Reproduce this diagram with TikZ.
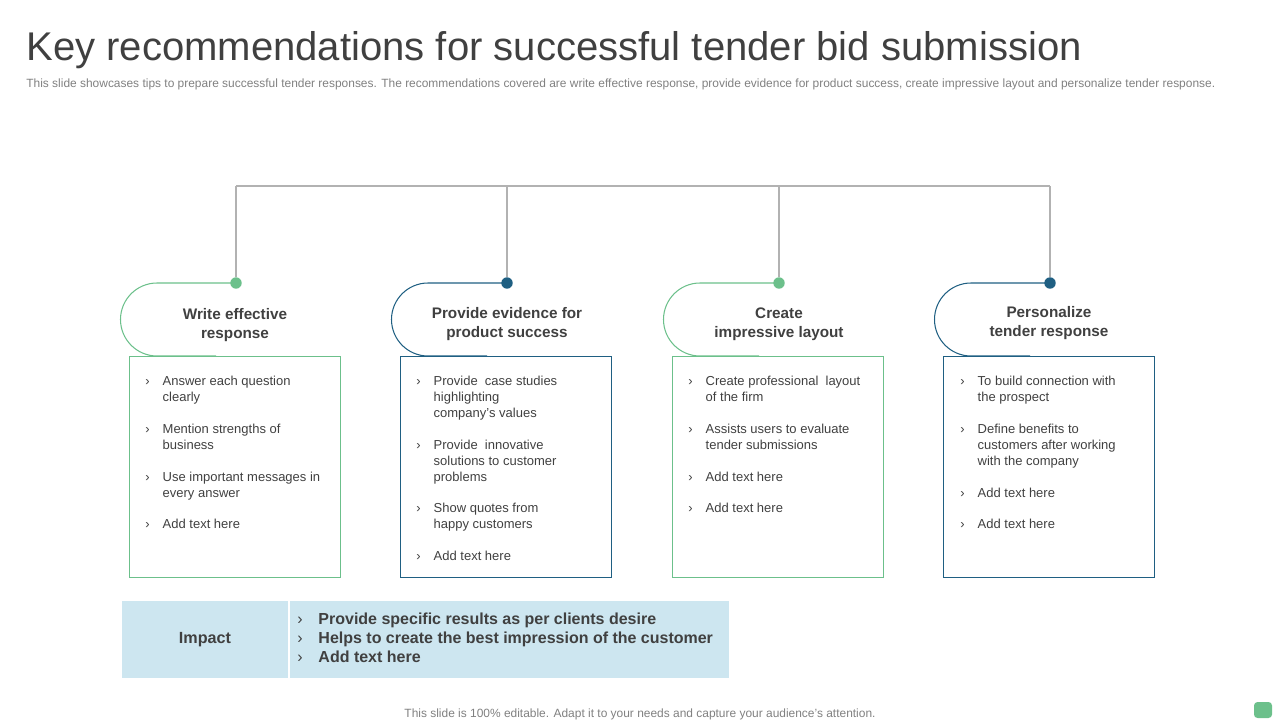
\documentclass[tikz,border=0pt]{standalone}
\usepackage{fontspec}
\setmainfont{Liberation Sans}
\usetikzlibrary{positioning}
\definecolor{lgreen}{HTML}{6CC08B}
\definecolor{dblue}{HTML}{1F5F82}
\definecolor{txtgray}{HTML}{404040}
\definecolor{impfill}{HTML}{CDE6F0}
\newlength{\unitpx}\setlength{\unitpx}{0.5669pt}
\newcommand{\blist}[1]{\fontsize{7.4}{9.07}\selectfont\color{txtgray}\begin{tabular}{@{}l@{\hspace{7.4pt}}l@{}}#1\end{tabular}}
\tikzset{
  conn/.style={draw=gray!60, line width=0.6pt},
  dot/.style={circle, fill=#1, inner sep=0pt, minimum size=6.5pt},
  card/.style={draw=#1, line width=0.6pt, minimum width=212\unitpx, minimum height=222\unitpx, inner sep=0pt},
  head/.style={font=\fontsize{8.7}{10.6}\selectfont\bfseries, text=txtgray, align=center},
  lst/.style={anchor=north west, inner sep=0pt}
}
\begin{document}
\begin{tikzpicture}[x=0.02cm, y=-0.02cm]
\useasboundingbox (0,0) rectangle (1280,720);
% title
\node[anchor=base west, inner sep=0pt, font=\fontsize{22.8}{25}\selectfont, text=txtgray] (title) at (26,60) {Key recommendations for successful tender bid submission};
\node[anchor=base west, inner sep=0pt, font=\fontsize{6.8}{8}\selectfont, text=gray] (sub) at (26,87) {This slide showcases tips to prepare successful tender responses. The recommendations covered are write effective response, provide evidence for product success, create impressive layout and personalize tender response.};
% top connector
\coordinate (top1) at (236,186);
\coordinate (top4) at (1050,186);
\draw[conn] (top1) -- (top4);
\foreach \x/\c/\n in {236/lgreen/1, 507/dblue/2, 779/lgreen/3, 1050/dblue/4} {
  \node[dot=\c] (d\n) at (\x,283) {};
  \draw[conn] (\x,186) -- (d\n);
  \draw[\c, line width=0.6pt] (d\n.center) -- (\x-79,283) arc[start angle=270, end angle=90, radius=36.5] -- (\x-20,356);
  \node[card=\c, anchor=north] (c\n) at (\x-1,356) {};
}
\node[head] (h1) at (235,325) {Write effective\\response};
\node[head] (h2) at (507,324) {Provide evidence for\\product success};
\node[head] (h3) at (779,324) {Create\\impressive layout};
\node[head] (h4) at (1049,323) {Personalize\\tender response};
% lists
\node[lst] (l1) at (145,374) {\blist{› & Answer each question\\ & clearly\\[9.07pt]
› & Mention strengths of\\ & business\\[9.07pt]
› & Use important messages in\\ & every answer\\[9.07pt]
› & Add text here}};
\node[lst] (l2) at (416,374) {\blist{› & Provide\ \ case studies\\ & highlighting\\ & company's values\\[9.07pt]
› & Provide\ \ innovative\\ & solutions to customer\\ & problems\\[9.07pt]
› & Show quotes from\\ & happy customers\\[9.07pt]
› & Add text here}};
\node[lst] (l3) at (688,374) {\blist{› & Create professional\ \ layout\\ & of the firm\\[9.07pt]
› & Assists users to evaluate\\ & tender submissions\\[9.07pt]
› & Add text here\\[9.07pt]
› & Add text here}};
\node[lst] (l4) at (960,374) {\blist{› & To build connection with\\ & the prospect\\[9.07pt]
› & Define benefits to\\ & customers after working\\ & with the company\\[9.07pt]
› & Add text here\\[9.07pt]
› & Add text here}};
% impact
\fill[impfill] (122,601) rectangle (729,678);
\draw[white, line width=1pt] (289,601) -- (289,678);
\node[font=\fontsize{9.2}{11}\selectfont\bfseries, text=txtgray] (imp) at (205,640) {Impact};
\node[anchor=west, inner sep=0pt, font=\fontsize{9.1}{10.8}\selectfont\bfseries, text=txtgray] (impl) at (297,640) {\begin{tabular}{@{}l@{\hspace{9pt}}l@{}}{\mdseries ›} & Provide specific results as per clients desire\\{\mdseries ›} & Helps to create the best impression of the customer\\{\mdseries ›} & Add text here\end{tabular}};
% footer
\node[font=\fontsize{6.8}{8}\selectfont, text=gray] (foot) at (640,714) {This slide is 100\% editable. Adapt it to your needs and capture your audience's attention.};
\fill[lgreen, rounded corners=2pt] (1254,702) rectangle (1272,718);
\end{tikzpicture}
\end{document}
